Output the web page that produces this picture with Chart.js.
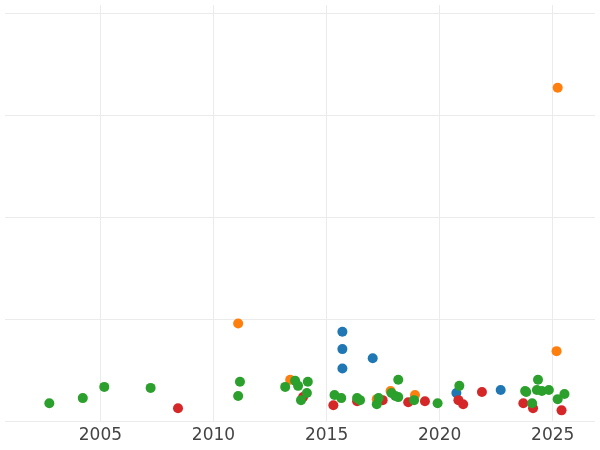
<!DOCTYPE html>
<html>
<head>
<meta charset="utf-8">
<script src="https://cdn.jsdelivr.net/npm/chart.js@4/dist/chart.umd.min.js"></script>
<style>
  html, body { margin: 0; padding: 0; background: #fff; }
  #wrap { width: 600px; height: 450px; }
</style>
</head>
<body>
<div id="wrap"><canvas id="chart"></canvas></div>
<script>
// Datos por serie (x = año decimal, y = valor)
const greenX = [2002.74, 2004.22, 2005.17, 2007.22, 2011.17, 2011.09, 2013.17, 2013.61, 2013.74, 2013.87, 2014.17, 2014.13, 2015.35, 2015.65, 2016.35, 2016.48, 2017.22, 2017.30, 2017.87, 2018.17, 2018.04, 2018.17, 2018.87, 2019.91, 2020.87, 2023.78, 2023.83, 2024.09, 2024.35, 2024.30, 2024.52, 2024.83, 2025.22, 2025.52];
const greenY = [0.18, 0.23, 0.34, 0.33, 0.39, 0.25, 0.34, 0.40, 0.35, 0.21, 0.39, 0.28, 0.26, 0.23, 0.23, 0.21, 0.17, 0.23, 0.28, 0.41, 0.25, 0.24, 0.21, 0.18, 0.35, 0.30, 0.29, 0.18, 0.41, 0.31, 0.30, 0.31, 0.22, 0.27];
const orangeX = [2011.09, 2013.39, 2017.22, 2017.83, 2018.91, 2025.22, 2025.17];
const orangeY = [0.96, 0.41, 0.22, 0.30, 0.26, 3.27, 0.69];
const redX = [2008.43, 2013.96, 2015.30, 2016.35, 2017.30, 2017.48, 2018.61, 2019.35, 2020.83, 2021.04, 2021.87, 2023.70, 2024.13, 2025.39];
const redY = [0.13, 0.24, 0.16, 0.20, 0.22, 0.21, 0.19, 0.20, 0.21, 0.17, 0.29, 0.18, 0.13, 0.11];
const blueX = [2015.70, 2015.70, 2015.70, 2017.04, 2020.74, 2022.70];
const blueY = [0.88, 0.71, 0.52, 0.62, 0.28, 0.31];
const xTicks = [2005, 2010, 2015, 2020, 2025];
const yTicks = [0, 1, 2, 3, 4];

const pts = (xs, ys) => xs.map((x, i) => ({ x: x, y: ys[i] }));
const serie = (xs, ys, color) => ({
    data: pts(xs, ys),
    backgroundColor: color,
    borderWidth: 0,
    pointRadius: 5,
    pointHoverRadius: 5
});

new Chart(document.getElementById('chart'), {
    type: 'scatter',
    data: {
        datasets: [
            serie(greenX, greenY, '#2ca02c'),
            serie(orangeX, orangeY, '#ff7f0e'),
            serie(redX, redY, '#d62728'),
            serie(blueX, blueY, '#1f77b4')
        ]
    },
    options: {
        responsive: true,
        maintainAspectRatio: false,
        animation: false,
        layout: { padding: 0 },
        plugins: { legend: { display: false }, tooltip: { enabled: false } },
        scales: {
            x: {
                type: 'linear',
                min: 2000.78,
                max: 2026.87,
                afterBuildTicks: s => { s.ticks = xTicks.map(v => ({ value: v })); },
                grid: { color: '#ebebeb', drawTicks: false },
                border: { display: false },
                ticks: { color: '#444', font: { family: 'DejaVu Sans', size: 17 }, padding: 4, maxRotation: 0, callback: v => String(v) }
            },
            y: {
                min: 0,
                max: 4.08,
                afterBuildTicks: s => { s.ticks = yTicks.map(v => ({ value: v })); },
                grid: { color: '#ebebeb', drawTicks: false },
                border: { display: false },
                ticks: { display: false }
            }
        }
    }
});
</script>
</body>
</html>
